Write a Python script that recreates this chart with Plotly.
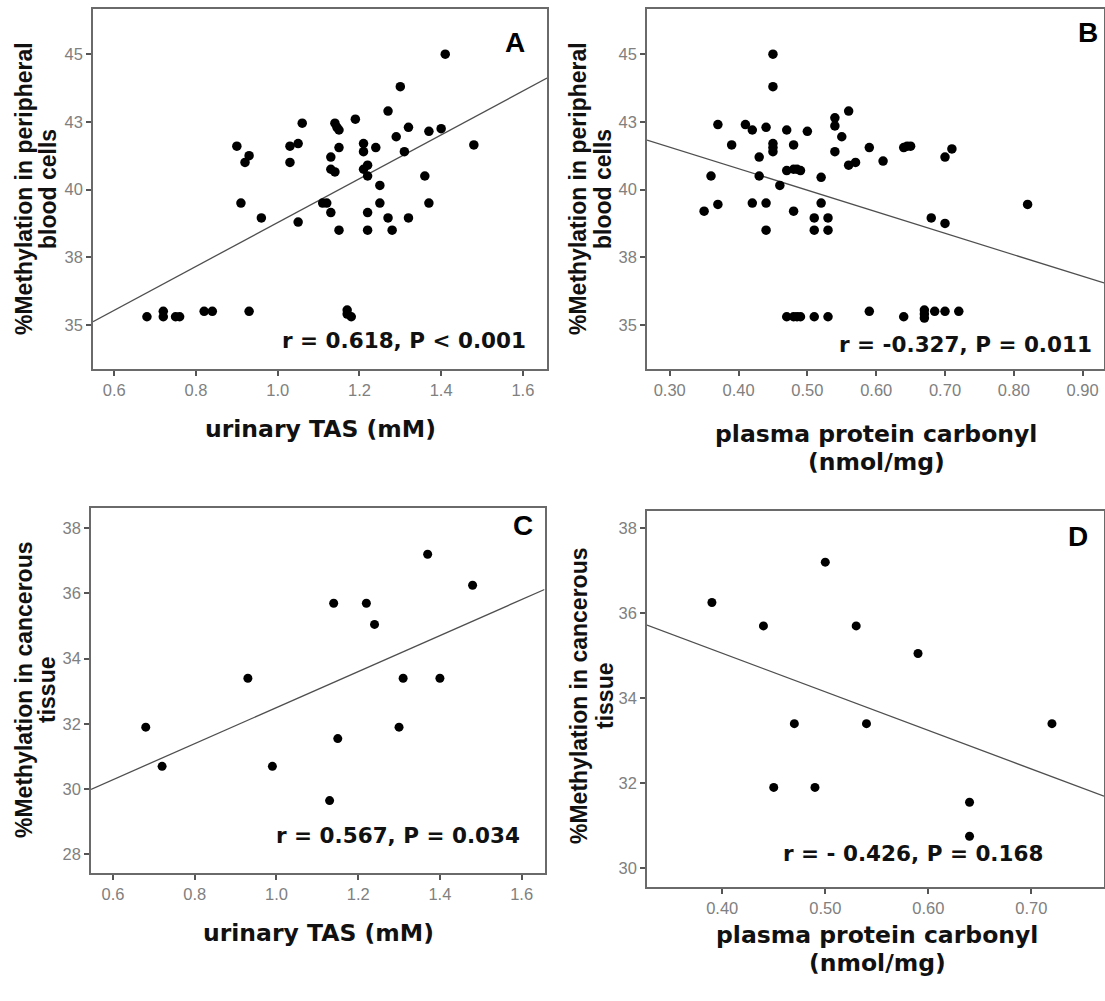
import plotly.graph_objects as go

W, H = 1105, 1001

# ---------------- data ----------------
# Panel A: urinary TAS vs %methylation in peripheral blood cells
a_x = [0.68, 0.72, 0.72, 0.75, 0.76, 0.82, 0.84, 0.93, 1.17, 1.17, 1.18,
       0.90, 0.91, 0.92, 0.93, 0.96, 1.03, 1.03, 1.05, 1.06, 1.05,
       1.11, 1.12, 1.13, 1.13, 1.14, 1.13, 1.14, 1.145, 1.15, 1.15,
       1.15, 1.19, 1.21, 1.21, 1.22, 1.21, 1.22, 1.22, 1.22, 1.24,
       1.25, 1.25, 1.27, 1.27, 1.28, 1.29, 1.30, 1.31, 1.32, 1.32,
       1.36, 1.37, 1.37, 1.40, 1.41, 1.48]
a_y = [35.3, 35.5, 35.3, 35.3, 35.3, 35.5, 35.5, 35.5, 35.55, 35.4, 35.3,
       41.6, 39.5, 41.0, 41.25, 38.95, 41.6, 41.0, 41.7, 42.45, 38.8,
       39.5, 39.5, 41.2, 40.75, 40.65, 39.15, 42.45, 42.3, 42.2, 41.55,
       38.5, 42.6, 41.7, 41.4, 40.9, 40.75, 40.5, 39.15, 38.5, 41.55,
       40.15, 39.5, 42.9, 38.95, 38.5, 41.95, 43.8, 41.4, 42.3, 38.95,
       40.5, 42.15, 39.5, 42.25, 45.0, 41.65]
a_fit = {"slope": 8.1, "intercept": 30.68}
a_text = "r = 0.618, P < 0.001"

# Panel B: plasma protein carbonyl vs %methylation in peripheral blood cells
b_x = [0.35, 0.36, 0.37, 0.37, 0.39, 0.41, 0.42, 0.42, 0.43, 0.43,
       0.44, 0.44, 0.44, 0.45, 0.45, 0.45, 0.45, 0.45, 0.46, 0.47,
       0.47, 0.48, 0.485, 0.49, 0.48, 0.48, 0.50, 0.51, 0.51, 0.52,
       0.52, 0.53, 0.53, 0.54, 0.54, 0.54, 0.55, 0.56, 0.56, 0.57,
       0.59, 0.61, 0.64, 0.645, 0.65, 0.68, 0.70, 0.70, 0.71, 0.82,
       0.47, 0.48, 0.485, 0.49, 0.51, 0.53, 0.59, 0.64, 0.67, 0.67,
       0.67, 0.685, 0.70, 0.72]
b_y = [39.2, 40.5, 42.4, 39.45, 41.65, 42.4, 42.2, 39.5, 41.2, 40.5,
       42.3, 39.5, 38.5, 45.0, 43.8, 41.7, 41.55, 41.4, 40.15, 42.2,
       40.7, 40.75, 40.75, 40.7, 41.65, 39.2, 42.15, 38.95, 38.5, 40.45,
       39.5, 38.95, 38.5, 42.65, 42.35, 41.4, 41.95, 42.9, 40.9, 41.0,
       41.55, 41.05, 41.55, 41.6, 41.6, 38.95, 41.2, 38.75, 41.5, 39.45,
       35.3, 35.3, 35.3, 35.3, 35.3, 35.3, 35.5, 35.3, 35.55, 35.4,
       35.25, 35.5, 35.5, 35.5]
b_fit = {"slope": -7.95, "intercept": 43.95}
b_text = "r = -0.327, P = 0.011"

# Panel C: urinary TAS vs %methylation in cancerous tissue
c_x = [0.68, 0.72, 0.93, 0.99, 1.13, 1.14, 1.15, 1.22, 1.24, 1.30, 1.31, 1.37, 1.40, 1.48]
c_y = [31.9, 30.7, 33.4, 30.7, 29.65, 35.7, 31.55, 35.7, 35.05, 31.9, 33.4, 37.2, 33.4, 36.25]
c_fit = {"slope": 5.52, "intercept": 26.98}
c_text = "r = 0.567, P = 0.034"

# Panel D: plasma protein carbonyl vs %methylation in cancerous tissue
d_x = [0.39, 0.44, 0.45, 0.47, 0.49, 0.50, 0.53, 0.54, 0.59, 0.64, 0.64, 0.72]
d_y = [36.25, 35.7, 31.9, 33.4, 31.9, 37.2, 35.7, 33.4, 35.05, 31.55, 30.75, 33.4]
d_fit = {"slope": -9.08, "intercept": 38.69}
d_text = "r = - 0.426, P = 0.168"

# tick values / labels
ab_yticks = [35, 37.5, 40, 42.5, 45]
ab_yticklabels = ["35", "38", "40", "43", "45"]
c_yticks = [28, 30, 32, 34, 36, 38]
d_yticks = [30, 32, 34, 36, 38]
tas_xticks = [0.6, 0.8, 1.0, 1.2, 1.4, 1.6]
b_xticks = [0.30, 0.40, 0.50, 0.60, 0.70, 0.80, 0.90]
d_xticks = [0.40, 0.50, 0.60, 0.70]

panel_letters = ["A", "B", "C", "D"]
x_titles = [["urinary TAS (mM)"], ["plasma protein carbonyl", "(nmol/mg)"],
            ["urinary TAS (mM)"], ["plasma protein carbonyl", "(nmol/mg)"]]
y_titles = [["%Methylation in peripheral", "blood cells"],
            ["%Methylation in peripheral", "blood cells"],
            ["%Methylation in cancerous", "tissue"],
            ["%Methylation in cancerous", "tissue"]]

# ---------------- layout geometry (pixels) ----------------
def fx(p):
    return p / W

def fy(p):
    return 1 - p / H

boxes = {  # left, right, top, bottom in px
    "A": (93, 547, 9, 369),
    "B": (647, 1104, 9, 369),
    "C": (91, 544.5, 508.3, 873.3),
    "D": (647, 1104, 510.7, 887.3),
}
xranges = {"A": [0.548, 1.659], "B": [0.267, 0.931], "C": [0.546, 1.656], "D": [0.327, 0.7705]}
yranges = {"A": [33.37, 46.67], "B": [33.37, 46.67], "C": [27.42, 38.61], "D": [29.55, 38.41]}

fig = go.Figure()

panels = [
    ("A", a_x, a_y, a_fit, 9.5),
    ("B", b_x, b_y, b_fit, 9.5),
    ("C", c_x, c_y, c_fit, 9),
    ("D", d_x, d_y, d_fit, 9),
]

for i, (name, xs, ys, fit, msize) in enumerate(panels):
    suffix = "" if i == 0 else str(i + 1)
    xr = xranges[name]
    fig.add_trace(go.Scatter(
        x=xr, y=[fit["intercept"] + fit["slope"] * v for v in xr],
        mode="lines", line=dict(color="#4f4f4f", width=1.3),
        xaxis="x" + suffix, yaxis="y" + suffix, showlegend=False, hoverinfo="skip"))
    fig.add_trace(go.Scatter(
        x=xs, y=ys, mode="markers",
        marker=dict(color="black", size=msize, line=dict(width=0)),
        xaxis="x" + suffix, yaxis="y" + suffix, showlegend=False))

tickfont = dict(family="Liberation Sans, Arial, sans-serif", size=16.5, color="#808080")
axis_common = dict(showline=True, mirror=True, linecolor="#6a6a6a", linewidth=1.6,
                   ticks="outside", ticklen=5, tickwidth=1.5, tickcolor="#555555",
                   showgrid=False, zeroline=False, tickfont=tickfont)

xtick_sets = {"A": (tas_xticks, [f"{v:.1f}" for v in tas_xticks]),
              "B": (b_xticks, [f"{v:.2f}" for v in b_xticks]),
              "C": (tas_xticks, [f"{v:.1f}" for v in tas_xticks]),
              "D": (d_xticks, [f"{v:.2f}" for v in d_xticks])}
ytick_sets = {"A": (ab_yticks, ab_yticklabels),
              "B": (ab_yticks, ab_yticklabels),
              "C": (c_yticks, [str(v) for v in c_yticks]),
              "D": (d_yticks, [str(v) for v in d_yticks])}

layout_axes = {}
for i, name in enumerate(panel_letters):
    suffix = "" if i == 0 else str(i + 1)
    l, r, t, b = boxes[name]
    xv, xt = xtick_sets[name]
    yv, yt = ytick_sets[name]
    layout_axes["xaxis" + suffix] = dict(axis_common, domain=[fx(l), fx(r)], range=xranges[name],
                                         tickvals=xv, ticktext=xt,
                                         anchor="y" + suffix)
    layout_axes["yaxis" + suffix] = dict(axis_common, domain=[fy(b), fy(t)], range=yranges[name],
                                         tickvals=yv, ticktext=yt,
                                         anchor="x" + suffix)

annotations = []
wide_bold = "DejaVu Sans, Verdana, sans-serif"
arial = "Liberation Sans, Arial, sans-serif"

# panel letters
letter_pos = {"A": (515, 42), "B": (1088, 32), "C": (523, 525), "D": (1078, 536)}
for name in panel_letters:
    x, y = letter_pos[name]
    annotations.append(dict(x=fx(x), y=fy(y), xref="paper", yref="paper", showarrow=False,
                            text="<b>%s</b>" % name, xanchor="center", yanchor="middle",
                            font=dict(family=arial, size=28, color="black")))

# correlation texts
r_pos = {"A": (404, 340), "B": (965, 344), "C": (398, 835), "D": (913, 853)}
r_texts = {"A": a_text, "B": b_text, "C": c_text, "D": d_text}
for name in panel_letters:
    x, y = r_pos[name]
    annotations.append(dict(x=fx(x), y=fy(y), xref="paper", yref="paper", showarrow=False,
                            text="<b>%s</b>" % r_texts[name], xanchor="center", yanchor="middle",
                            font=dict(family=wide_bold, size=21.5, color="#111111")))

# x-axis titles
xt_pos = {"A": (320, [429]), "B": (876, [434, 462]), "C": (319, [933]), "D": (877, [935, 963])}
for i, name in enumerate(panel_letters):
    x, ys = xt_pos[name]
    for line, y in zip(x_titles[i], ys):
        annotations.append(dict(x=fx(x), y=fy(y), xref="paper", yref="paper", showarrow=False,
                                text="<b>%s</b>" % line, xanchor="center", yanchor="middle",
                                font=dict(family=wide_bold, size=23.5, color="#111111")))

# y-axis titles
yt_pos = {"A": ([24, 48], 189), "B": ([578, 603], 189), "C": ([24, 47], 690), "D": ([579, 605], 696)}
for i, name in enumerate(panel_letters):
    xs, y = yt_pos[name]
    for line, x in zip(y_titles[i], xs):
        annotations.append(dict(x=fx(x), y=fy(y), xref="paper", yref="paper", showarrow=False,
                                text="<b>%s</b>" % line, xanchor="center", yanchor="middle",
                                textangle=-90,
                                font=dict(family=arial, size=23, color="#111111")))

fig.update_layout(
    width=W, height=H,
    margin=dict(l=0, r=0, t=0, b=0),
    paper_bgcolor="white", plot_bgcolor="white",
    showlegend=False,
    annotations=annotations,
    **layout_axes,
)

fig.write_html("out.html")
